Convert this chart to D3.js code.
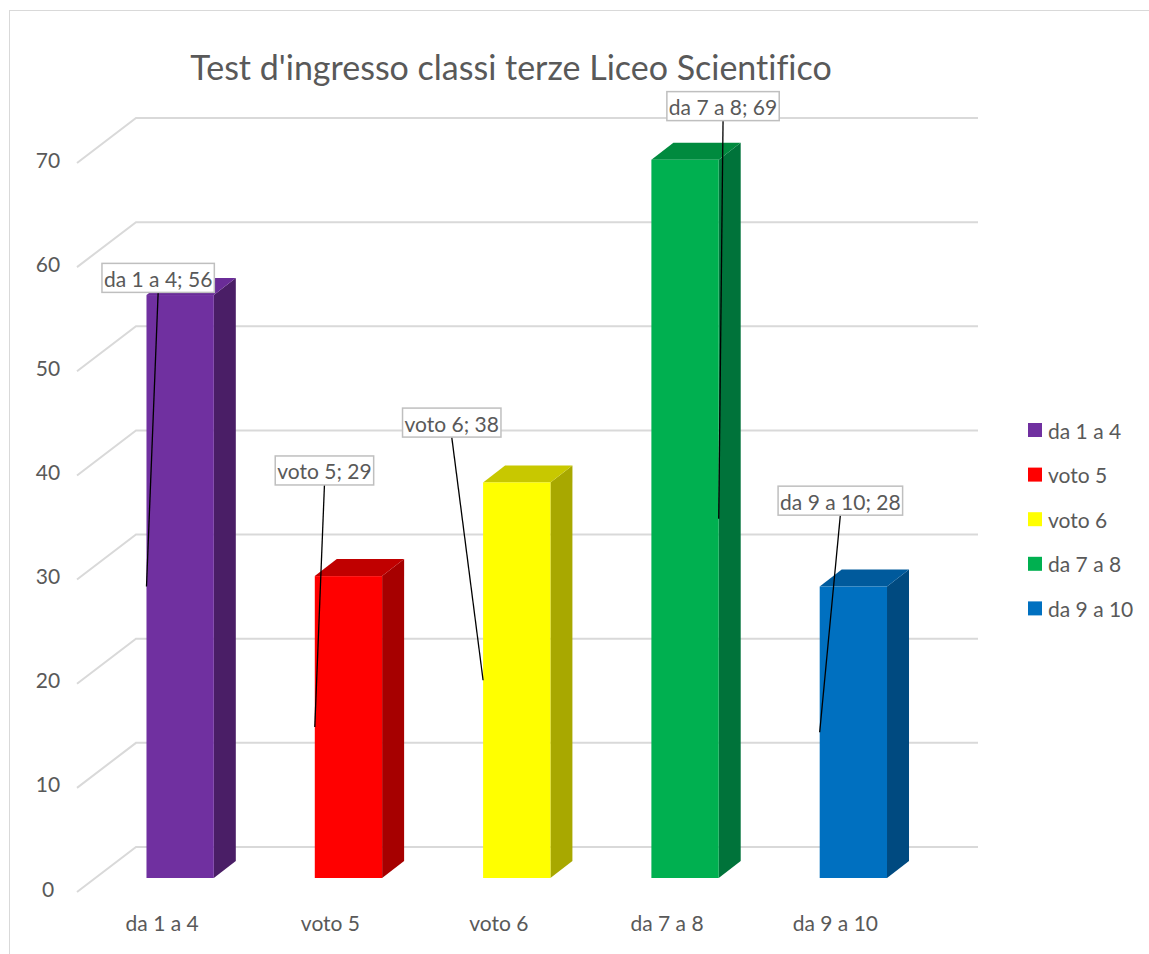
<!DOCTYPE html>
<html>
<head>
<meta charset="utf-8">
<script src="https://cdn.jsdelivr.net/npm/d3@7"></script>
<style>
  body { margin: 0; background: #fff; }
  text { font-family: Lato, "Liberation Sans", sans-serif; fill: #595959; font-variant-ligatures: none; }
</style>
</head>
<body>
<svg id="chart" width="1149" height="954"></svg>
<script>
// data
const categories = ["da 1 a 4", "voto 5", "voto 6", "da 7 a 8", "da 9 a 10"];
const values = [56, 29, 38, 69, 28];
const yTicks = [0, 10, 20, 30, 40, 50, 60, 70];
const chartTitle = "Test d'ingresso classi terze Liceo Scientifico";

// colours: front, side, top
const frontColors = ["#7030A0", "#FF0000", "#FFFF00", "#00B050", "#0070C0"];
const sideColors = ["#4A1E66", "#A60000", "#A8A800", "#00733A", "#004A80"];
const topColors = ["#6A2C98", "#C00000", "#C8C800", "#008A3E", "#005A9C"];

// data label placement (dx from bar centre, y in value units, leader end side)
const labelDx = [-22, -24, -65, 38, -13];
const labelAt = [57.6, 39.1, 43.7, 74.1, 36.2];
const leaderSide = ["left", "left", "left", "right", "left"];

const width = 1149, height = 954;
const depthX = 22, depthY = 17;      // bar depth
const wallDx = 59, wallDy = 45;      // floor / wall depth
const fs = 21;

const svg = d3.select("#chart");

// chart frame
svg.append("rect")
  .attr("x", 9.5).attr("y", 10.5)
  .attr("width", 1200).attr("height", 1000)
  .attr("fill", "white").attr("stroke", "#d9d9d9");

const x = d3.scaleBand(categories, [96, 937.5]).paddingInner(0.6).paddingOuter(0.3);
const yFront = d3.scaleLinear([0, 70], [878, 149.3]);
const yBack = d3.scaleLinear([0, 70], [847, 118]);
const yLeft = d3.scaleLinear([0, 70], [892, 163]);
const wallLeft = 136, wallRight = 978, frontLeft = wallLeft - wallDx;

// gridlines: side wall diagonals and back wall lines
const grid = svg.append("g").attr("stroke", "#d9d9d9").attr("stroke-width", 2).attr("fill", "none");
grid.selectAll("path").data(yTicks).join("path")
  .attr("d", d => `M${frontLeft},${yLeft(d)}L${wallLeft},${yBack(d)}L${wallRight},${yBack(d)}`);

// y tick labels
svg.append("g").selectAll("text").data(yTicks).join("text")
  .attr("x", 48).attr("y", d => yLeft(d) - 4)
  .attr("text-anchor", "middle").attr("dominant-baseline", "central")
  .attr("font-size", fs)
  .text(d => d);

// bars
const bars = svg.append("g").selectAll("g").data(values).join("g");
const bw = x.bandwidth();
const y0 = yFront(0);
bars.append("path")
  .attr("fill", (d, i) => sideColors[i])
  .attr("d", (d, i) => {
    const x1 = x(categories[i]) + bw, yt = yFront(d);
    return `M${x1},${yt}L${x1 + depthX},${yt - depthY}L${x1 + depthX},${y0 - depthY}L${x1},${y0}Z`;
  });
bars.append("path")
  .attr("fill", (d, i) => topColors[i])
  .attr("d", (d, i) => {
    const x0 = x(categories[i]), yt = yFront(d);
    return `M${x0},${yt}L${x0 + depthX},${yt - depthY}L${x0 + bw + depthX},${yt - depthY}L${x0 + bw},${yt}Z`;
  });
bars.append("rect")
  .attr("fill", (d, i) => frontColors[i])
  .attr("x", (d, i) => x(categories[i]))
  .attr("y", d => yFront(d))
  .attr("width", bw)
  .attr("height", d => y0 - yFront(d));

// x category labels
svg.append("g").selectAll("text").data(categories).join("text")
  .attr("x", d => x(d) + bw / 2 - 18)
  .attr("y", 922)
  .attr("text-anchor", "middle").attr("dominant-baseline", "central")
  .attr("font-size", fs)
  .text(d => d);

// data labels with leader lines
const labels = svg.append("g").selectAll("g").data(values).join("g");
labels.each(function (d, i) {
  const g = d3.select(this);
  const cx = x(categories[i]) + bw / 2 + labelDx[i];
  const cy = yFront(labelAt[i]);
  const t = g.append("text")
    .attr("x", cx).attr("y", cy)
    .attr("text-anchor", "middle").attr("dominant-baseline", "central")
    .attr("font-size", fs)
    .text(`${categories[i]}; ${d}`);
  const bb = t.node().getBBox();
  const bx = cx - bb.width / 2 - 2, by = cy - 15, bwid = bb.width + 4, bh = 29;
  const ex = leaderSide[i] === "left" ? x(categories[i]) : x(categories[i]) + bw;
  const ey = yFront(d / 2);
  g.insert("line", "text")
    .attr("x1", cx).attr("y1", by + bh)
    .attr("x2", ex).attr("y2", ey)
    .attr("stroke", "black").attr("stroke-width", 1.3);
  g.insert("rect", "text")
    .attr("x", bx).attr("y", by).attr("width", bwid).attr("height", bh)
    .attr("fill", "white").attr("stroke", "#bfbfbf").attr("stroke-width", 1.5);
});

// title
svg.append("text")
  .attr("x", 511).attr("y", 66)
  .attr("text-anchor", "middle").attr("dominant-baseline", "central")
  .attr("font-size", 34)
  .text(chartTitle);

// legend
const legend = svg.append("g").selectAll("g").data(categories).join("g")
  .attr("transform", (d, i) => `translate(1028,${430 + i * 44.6})`);
legend.append("rect")
  .attr("x", 0).attr("y", -7).attr("width", 14).attr("height", 14)
  .attr("fill", (d, i) => frontColors[i]);
legend.append("text")
  .attr("x", 20).attr("y", 0)
  .attr("dominant-baseline", "central")
  .attr("font-size", fs)
  .text(d => d);
</script>
</body>
</html>
